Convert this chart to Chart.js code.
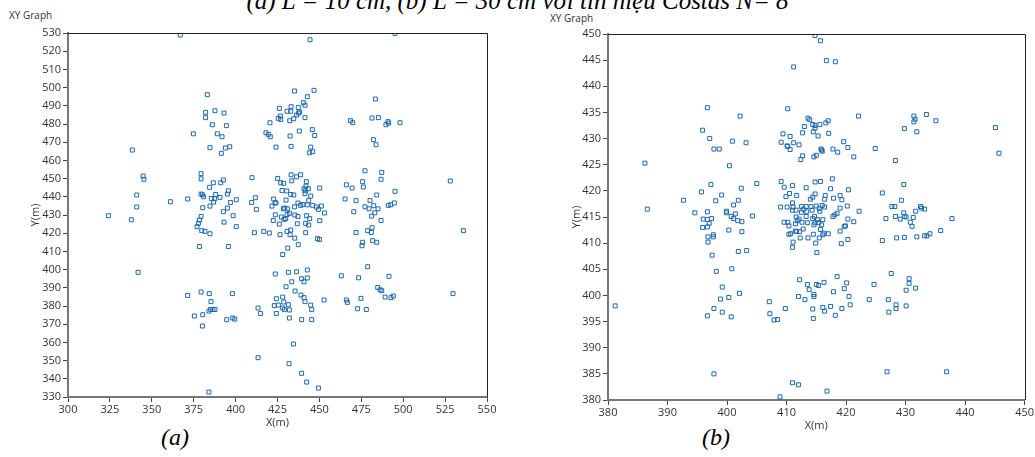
<!DOCTYPE html>
<html>
<head>
<meta charset="utf-8">
<script src="https://cdn.jsdelivr.net/npm/chart.js@4.4.0/dist/chart.umd.min.js"></script>
<style>
  body { margin: 0; background: #fff; width: 1035px; height: 457px; position: relative; overflow: hidden; font-family: "Open Sans", sans-serif; }
  canvas { position: absolute; }
  #title { position: absolute; left: 0; width: 1035px; text-align: center; top: -13px; font: italic 25px "Liberation Serif", serif; color: #000; white-space: nowrap; }
  .xy { position: absolute; font-size: 10px; color: #333; }
  .cap { position: absolute; font: italic 24px "Liberation Serif", serif; color: #000; }
</style>
</head>
<body>
<div id="title">(a) L = 10 cm, (b) L = 30 cm với tín hiệu Costas N= 8</div>
<div class="xy" style="left:9px; top:8px;">XY Graph</div>
<div class="xy" style="left:550px; top:11px;">XY Graph</div>
<div class="cap" style="left:161px; top:424px;">(a)</div>
<div class="cap" style="left:702px; top:424px;">(b)</div>
<canvas id="chartA" width="500" height="440" style="left:0px; top:0px"></canvas>
<canvas id="chartB" width="515" height="440" style="left:520px; top:0px"></canvas>
<script>
// (a) L = 10 cm : estimated positions [X(m), Y(m)]
const ptsA = [
  [367.0,528.9],[444.4,526.3],[495.1,529.8],[383.1,496.1],[435.1,498.1],[446.8,498.5],[442.8,495.0],[483.4,493.7],
  [440.4,491.7],[441.4,490.3],[433.1,489.5],[437.4,489.0],[426.1,488.6],[387.7,487.3],[382.1,486.4],[393.1,486.0],
  [430.7,487.0],[432.9,487.0],[438.2,486.6],[437.6,486.0],[436.4,484.9],[426.7,484.4],[425.5,483.1],[426.9,482.5],
  [434.7,482.9],[432.3,481.8],[441.4,483.5],[382.1,483.5],[481.4,483.3],[485.2,483.5],[468.5,481.8],[469.9,480.7],
  [490.9,481.3],[491.3,480.5],[489.7,479.6],[498.1,480.7],[420.5,480.7],[386.1,479.6],[394.5,479.1],[445.8,476.9],
  [438.0,476.1],[418.1,475.2],[419.5,474.3],[420.7,473.0],[432.5,473.4],[447.2,473.7],[374.8,474.6],[389.1,474.6],
  [391.9,473.0],[482.2,471.4],[483.8,468.6],[424.1,467.3],[433.1,467.7],[444.8,467.3],[446.0,464.8],[444.2,464.2],
  [384.7,467.0],[393.9,466.8],[396.5,467.5],[391.5,463.9],[338.4,465.7],
  [477.2,454.3],[487.2,453.4],[344.8,451.4],[345.3,449.6],[379.4,452.7],[379.4,449.9],[409.8,450.5],[425.1,450.1],
  [433.1,452.1],[436.4,451.0],[438.8,452.1],[426.9,447.7],[428.7,447.4],[433.5,448.8],[442.2,448.3],[442.0,445.9],
  [440.8,444.4],[443.4,444.4],[386.7,447.7],[392.7,449.2],[391.1,447.7],[384.5,445.2],[450.2,444.8],[466.1,446.6],
  [469.5,444.8],[475.8,448.3],[476.2,445.4],[486.8,449.6],[528.1,448.7],[427.7,443.5],[430.5,443.2],[432.9,441.3],
  [434.7,441.0],[441.4,441.7],[444.8,440.4],[441.6,443.3],[341.0,441.0],[379.4,441.5],[380.2,441.1],[380.8,440.0],
  [388.1,441.3],[387.5,438.9],[385.5,439.1],[386.9,437.1],[390.7,439.7],[395.7,443.3],[395.1,441.5],[361.1,437.3],
  [371.4,438.8],[411.8,439.5],[400.4,438.4],[396.9,436.9],[409.6,436.9],[422.7,438.8],[423.5,436.6],[424.1,436.7],
  [430.1,438.2],[465.3,438.8],[471.9,437.9],[484.2,441.0],[495.1,443.0],[480.2,437.9],[437.2,436.6],[438.8,435.3],
  [440.2,435.8],[442.8,435.6],[443.6,437.9],[446.0,435.3],[448.2,434.4],[451.2,434.9],[429.3,433.8],[428.5,433.4],
  [430.9,433.4],[421.7,434.9],[435.1,434.5],[341.0,434.4],[380.4,434.0],[384.7,434.9],[395.1,433.8],[392.7,431.8],
  [412.4,433.1],[449.4,433.1],[453.0,431.1],[477.2,434.5],[482.4,435.1],[479.6,433.4],[485.0,433.4],[483.0,431.2],
  [491.1,435.3],[492.5,435.6],[494.7,436.6],[470.5,431.8],[324.1,429.6],[337.8,427.4],[379.4,429.2],[378.4,427.2],
  [377.8,425.4],[377.0,423.6],[398.5,429.6],[393.1,426.1],[400.4,423.6],[423.7,430.1],[427.3,428.9],[429.9,428.0],
  [430.7,430.3],[422.5,427.0],[426.1,425.0],[428.9,427.6],[432.1,430.9],[435.3,430.0],[437.2,429.2],[442.4,429.6],
  [444.2,428.0],[441.8,425.4],[443.6,424.5],[450.2,426.9],[436.8,425.2],[481.2,429.4],[486.8,427.0],[481.4,423.0],
  [478.8,421.4],[481.0,420.4],[379.8,421.4],[381.7,421.0],[384.7,419.7],[411.2,420.3],[416.8,421.0],[420.1,420.1],
  [426.5,419.2],[430.7,421.0],[432.9,421.7],[432.5,419.2],[435.3,417.3],[441.8,420.3],[448.8,417.0],[450.0,416.6],
  [471.9,420.4],[535.9,421.4],[481.8,415.9],[484.2,415.0],[475.8,415.0],[475.4,413.1],[378.4,412.7],[395.7,412.7],
  [437.4,413.7],[431.1,411.8],[428.1,408.3],
  [478.8,401.6],[341.8,398.5],[423.7,397.6],[431.5,398.5],[436.4,398.8],[442.8,399.8],[463.1,396.6],[473.4,395.5],
  [491.5,396.3],[439.4,395.0],[442.8,395.4],[433.5,393.3],[440.8,393.3],[430.1,390.6],[484.8,390.2],[486.2,388.9],
  [487.2,388.4],[379.4,387.7],[384.3,386.8],[371.4,385.8],[398.1,386.8],[435.5,388.2],[439.0,386.0],[440.8,384.6],
  [441.4,382.4],[428.1,384.9],[424.3,384.0],[428.7,382.2],[431.5,380.7],[423.1,380.2],[425.5,380.5],[428.1,378.9],
  [429.1,378.0],[432.1,377.8],[444.8,380.5],[445.4,378.0],[452.8,383.3],[466.1,383.3],[466.7,382.0],[474.8,384.2],
  [489.2,384.9],[492.7,384.6],[494.1,385.5],[529.7,386.8],[385.3,382.4],[385.1,378.1],[386.5,378.1],[387.7,378.1],
  [384.1,377.2],[413.4,378.9],[414.8,375.9],[424.3,375.9],[432.1,373.4],[439.4,372.5],[445.4,372.5],[472.8,378.5],
  [478.0,378.1],[375.4,374.5],[380.4,375.2],[380.2,369.0],[394.7,372.5],[398.3,373.4],[399.5,372.8],[434.5,359.1],
  [413.4,351.6],[431.9,348.3],[439.4,343.0],[442.4,338.2],[449.4,334.9],[384.1,332.7]
];

// (b) L = 30 cm : estimated positions [X(m), Y(m)]
const ptsB = [
  [414.8,449.7],[415.7,448.7],[416.7,444.9],[418.2,444.7],[411.2,443.7],[396.7,435.9],[410.2,435.7],[402.2,434.3],
  [422.1,434.3],[431.4,434.3],[433.5,434.6],[431.6,433.7],[431.4,433.2],[435.1,433.4],[413.6,433.9],[413.9,433.6],
  [417.0,433.4],[416.6,433.0],[414.4,432.7],[415.6,432.7],[414.8,432.5],[413.0,432.3],[414.8,432.0],[445.1,432.1],
  [395.9,431.6],[429.8,431.9],[431.9,431.3],[414.5,431.3],[412.7,431.1],[417.1,431.0],[409.4,430.9],[415.3,430.5],
  [410.6,430.4],[397.1,430.0],[400.9,429.5],[403.2,429.2],[409.1,429.3],[411.2,429.2],[419.6,429.4],[410.1,428.6],
  [410.2,428.5],[412.1,428.8],[410.6,427.9],[415.8,428.0],[415.9,427.8],[416.0,427.6],[417.8,428.0],[418.6,427.4],
  [420.3,428.3],[424.9,428.1],[397.8,428.0],[398.7,428.0],[386.2,425.3],[400.4,424.8],[412.7,426.7],[412.4,426.0],
  [414.6,426.5],[415.0,426.8],[421.3,426.5],[428.3,425.8],[445.7,427.2],
  [409.1,421.8],[411.0,421.0],[414.8,421.7],[415.7,421.8],[417.7,422.3],[405.0,421.4],[397.3,421.2],[395.7,419.8],
  [402.4,420.5],[409.6,420.7],[413.3,420.6],[417.4,420.4],[420.4,420.2],[429.7,421.2],[426.1,419.6],[410.5,419.5],
  [411.7,419.1],[409.9,418.9],[414.8,419.4],[416.5,419.1],[414.0,418.4],[414.4,418.8],[416.4,418.4],[417.9,418.6],
  [419.0,419.1],[419.3,418.3],[399.1,419.2],[392.7,418.2],[398.1,418.1],[401.9,418.2],[429.3,418.2],[401.1,417.3],
  [409.0,416.9],[410.1,416.9],[411.0,417.7],[411.1,416.9],[411.6,416.3],[412.5,417.0],[412.8,416.5],[413.3,417.0],
  [414.1,417.0],[415.0,417.1],[416.0,417.2],[416.4,416.9],[415.5,416.6],[412.5,415.9],[413.4,416.0],[414.3,416.3],
  [415.6,416.1],[411.0,416.3],[420.2,417.1],[422.2,416.1],[419.0,416.7],[421.3,414.1],[427.7,417.0],[428.2,417.0],
  [429.7,415.8],[429.8,415.1],[430.1,415.0],[432.5,417.0],[432.7,416.7],[433.2,416.5],[431.7,416.1],[386.6,416.5],
  [394.6,415.8],[396.7,416.0],[399.9,416.1],[399.9,415.8],[401.4,415.6],[400.7,415.1],[401.1,414.7],[401.8,414.3],
  [402.5,414.1],[396.7,414.5],[396.0,414.6],[397.4,414.7],[397.0,413.8],[396.7,413.1],[395.9,413.0],[404.3,415.2],
  [411.6,415.0],[412.1,414.6],[413.3,415.1],[414.4,414.7],[414.7,415.1],[415.2,414.5],[416.1,414.5],[417.8,415.1],
  [418.1,415.4],[418.5,415.7],[420.3,414.6],[409.6,414.0],[410.2,414.0],[410.4,413.3],[411.5,413.7],[411.8,414.3],
  [412.6,414.0],[413.5,413.9],[414.8,413.9],[415.4,413.9],[412.8,412.7],[411.5,412.3],[412.2,412.2],[414.6,413.5],
  [415.7,412.6],[415.9,413.5],[419.7,413.2],[419.9,413.3],[419.0,412.3],[416.3,411.9],[416.1,411.6],[417.0,411.8],
  [410.4,411.7],[410.7,411.8],[411.7,412.2],[414.5,411.7],[415.5,411.0],[413.6,411.0],[412.3,411.0],[411.1,410.2],
  [411.0,409.2],[414.9,410.0],[415.1,408.2],[419.2,409.9],[420.3,410.7],[400.3,412.5],[402.5,412.2],[396.8,411.2],
  [397.7,411.6],[397.7,411.2],[396.8,410.2],[397.5,407.7],[401.9,408.4],[403.3,408.6],[426.7,414.7],[428.3,415.1],
  [429.1,414.6],[430.8,414.0],[431.1,413.2],[431.3,414.9],[437.8,414.7],[426.1,410.5],[428.5,411.0],[429.8,411.1],
  [431.9,411.2],[433.2,411.4],[433.6,411.4],[434.1,411.8],[435.9,412.4],[400.8,405.1],
  [398.2,404.6],[412.2,403.0],[418.5,403.6],[427.6,404.2],[430.6,403.2],[430.6,402.3],[431.7,401.4],[430.1,401.0],
  [413.5,402.1],[415.0,402.1],[415.4,401.9],[416.3,402.5],[420.1,402.4],[419.7,401.3],[417.9,400.7],[413.8,401.1],
  [414.6,400.2],[414.6,399.8],[412.0,399.8],[413.1,399.2],[420.5,399.8],[399.2,401.6],[400.3,399.6],[402.1,400.4],
  [398.9,399.3],[397.8,397.5],[399.2,396.8],[396.7,396.1],[400.7,395.9],[407.1,398.8],[407.2,396.5],[407.9,395.3],
  [408.5,395.4],[409.8,397.5],[414.4,397.4],[414.5,395.6],[416.1,397.7],[416.4,397.0],[417.4,397.9],[418.2,396.2],
  [419.3,397.5],[420.7,398.2],[423.9,399.2],[424.7,402.1],[427.1,399.2],[427.2,396.8],[428.4,398.2],[428.4,397.5],
  [430.1,398.0],[381.2,398.0],[397.8,385.0],[411.0,383.3],[412.0,382.9],[416.8,381.7],[408.9,380.6],[426.9,385.4],
  [436.9,385.4]
];

const xTicksA = { min: 300, max: 550, step: 25 };
const yTicksA = { min: 330, max: 530, step: 10 };
const xTicksB = { min: 380, max: 450, step: 10 };
const yTicksB = { min: 380, max: 450, step: 5 };

const markerColor = 'rgb(30,104,176)';
const tickFont = { family: 'Open Sans', size: 11 };

// thin dark line on top and right of the plot area (left/bottom are the axis borders)
const framePlugin = {
  id: 'frame',
  afterDraw(chart) {
    const { ctx, chartArea: a } = chart;
    ctx.save();
    ctx.strokeStyle = '#222';
    ctx.lineWidth = 1;
    ctx.beginPath();
    ctx.moveTo(a.left, Math.round(a.top) + 0.5);
    ctx.lineTo(Math.round(a.right) + 0.5, Math.round(a.top) + 0.5);
    ctx.lineTo(Math.round(a.right) + 0.5, a.bottom);
    ctx.stroke();
    ctx.restore();
  }
};

function makeChart(id, pts, xt, yt, yWidth, yTitlePad, pad) {
  return new Chart(document.getElementById(id), {
    type: 'scatter',
    data: {
      datasets: [{
        data: pts.map(p => ({ x: p[0], y: p[1] })),
        pointStyle: 'rect',
        pointRadius: 2.8,
        pointBorderWidth: 1,
        pointBorderColor: markerColor,
        pointBackgroundColor: 'rgba(255,255,255,0)'
      }]
    },
    options: {
      responsive: false,
      animation: false,
      layout: { padding: pad },
      plugins: { legend: { display: false }, tooltip: { enabled: false } },
      scales: {
        x: {
          type: 'linear', min: xt.min, max: xt.max,
          ticks: { stepSize: xt.step, color: '#333', font: tickFont, padding: 1, maxRotation: 0, autoSkip: false },
          grid: { drawOnChartArea: false, tickLength: 5, color: '#444' },
          border: { color: '#777', width: 2 },
          title: { display: true, text: 'X(m)', color: '#333', font: tickFont, padding: { top: 0, bottom: 0 } },
          afterFit: s => { s.height = 32; }
        },
        y: {
          type: 'linear', min: yt.min, max: yt.max,
          ticks: { stepSize: yt.step, color: '#333', font: tickFont, padding: 2, autoSkip: false },
          grid: { drawOnChartArea: false, tickLength: 5, color: '#444' },
          border: { color: '#777', width: 2 },
          title: { display: true, text: 'Y(m)', color: '#333', font: tickFont, padding: { top: yTitlePad, bottom: 0 } },
          afterFit: s => { s.width = yWidth; }
        }
      }
    },
    plugins: [framePlugin]
  });
}

makeChart('chartA', ptsA, xTicksA, yTicksA, 68, 29, { left: 0, top: 33, right: 13, bottom: 11 });
makeChart('chartB', ptsB, xTicksB, yTicksB, 88, 50, { left: 0, top: 34, right: 8, bottom: 8 });
</script>
</body>
</html>
